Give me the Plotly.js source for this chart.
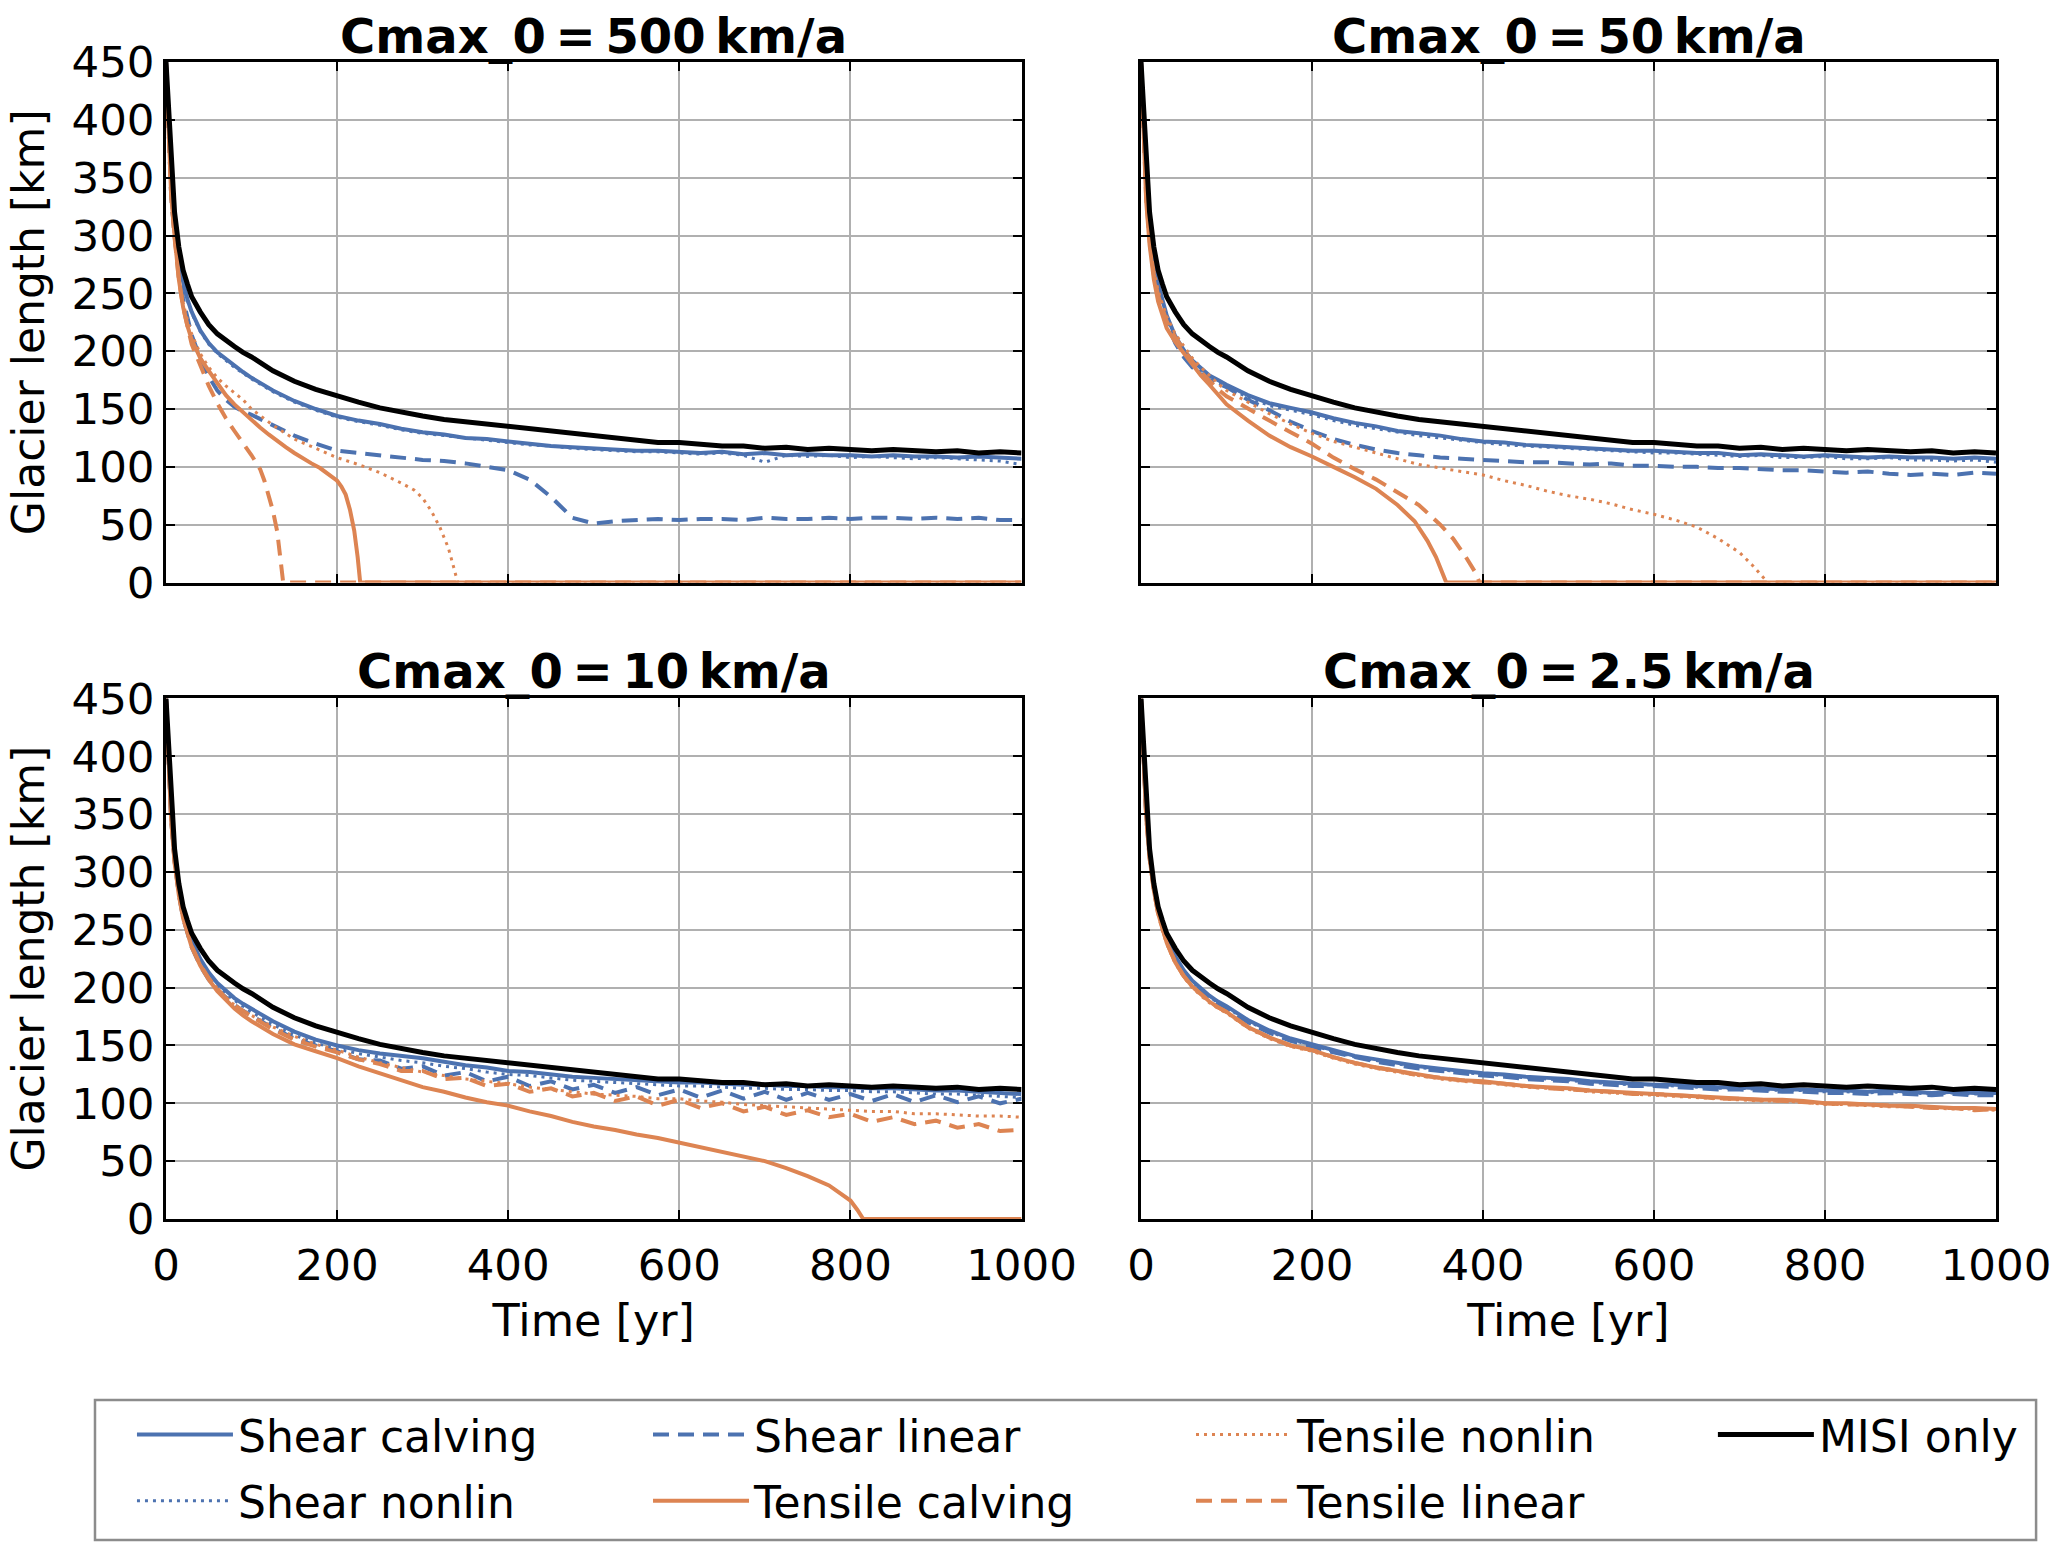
<!DOCTYPE html>
<html>
<head>
<meta charset="utf-8">
<script src="https://cdn.plot.ly/plotly-3.0.1.min.js"></script>
<style>html,body{margin:0;padding:0;background:#fff}</style>
</head>
<body>
<div id="chart" style="width:2067px;height:1561px"></div>
<script>
// time axis shared by most runs [yr]
const T = [0,3,6,10,15,20,25,30,40,50,60,70,80,90,
  100,125,150,175,200,225,250,275,300,325,350,375,400,425,450,475,500,525,550,575,600,
  625,650,675,700,725,750,775,800,825,850,875,900,925,950,975,1000];

// MISI only (same in every panel)
const misi = [450,405,360,320,290,270,258,247,234,223,215,209,204,199,
  195,183,174,167,161,156,151,147,144,141,139,137,134,132,130,128,126,125,123,121,121,
  119,118,118,116,117,115,116,115,114,115,114,113,114,112,113,112];

// ---- Cmax_0 = 500 km/a
const p1_sc = [450,392,348,310,282,260,245,234,218,207,199,193,188,182,
  177,166,157,150,144,140,137,133,130,128,125,124,122,120,118,117,116,115,114,114,113,
  112,113,111,112,110,111,110,110,109,110,109,109,108,109,108,107];
const p1_sn = [450,390,346,308,280,259,244,233,217,206,198,192,186,181,
  176,165,156,149,143,139,136,132,129,127,125,123,121,119,118,116,115,114,113,113,112,
  111,112,110,104,110,109,110,108,109,108,107,108,107,106,105,102];
const p1_sl = [450,385,335,300,268,245,228,214,194,178,166,158,152,148,
  145,136,127,120,114,112,110,108,106,105,103,100,97,89,74,56,51,53,54,55,54,
  55,55,54,56,55,55,56,55,56,56,55,56,55,56,54,54];
const p1_tc_t = [0,3,6,10,15,20,25,30,40,50,60,70,80,90,100,110,120,130,140,150,160,170,180,190,200,205,210,215,220,224,227,1000];
const p1_tc = [450,385,335,300,262,238,222,210,194,183,172,162,154,147,141,134,128,122,117,112,107,103,99,94,88,83,76,63,45,22,0,0];
const p1_tn_t = [0,3,6,10,15,20,25,30,40,50,60,70,80,90,100,125,150,175,200,225,250,275,290,300,310,320,330,336,341,1000];
const p1_tn = [450,385,335,298,264,242,227,215,198,186,177,170,164,158,150,136,124,116,108,102,95,86,80,73,62,48,30,14,0,0];
const p1_tl_t = [0,3,6,10,15,20,25,30,40,50,60,70,80,90,100,105,110,115,120,125,130,134,137,1000];
const p1_tl = [450,385,335,298,262,238,220,206,188,170,155,142,131,121,110,104,98,88,76,62,44,22,0,0];

// ---- Cmax_0 = 50 km/a
const p2_sc = [450,390,345,308,278,258,243,231,213,201,192,185,179,175,
  171,162,155,151,147,142,138,135,131,129,127,124,122,121,119,118,117,116,115,114,114,
  113,112,112,110,111,110,109,110,109,108,109,108,108,107,108,107];
const p2_sn = [450,388,343,306,276,256,241,229,211,199,190,183,177,173,
  169,160,153,149,145,140,136,133,130,127,125,123,121,119,118,117,116,115,114,113,112,
  112,111,110,109,110,108,108,109,107,107,108,106,106,105,106,104];
const p2_sl = [450,385,340,302,272,252,237,225,207,195,186,180,175,172,
  169,158,149,139,131,124,119,115,112,110,108,107,106,105,104,104,103,102,103,101,101,
  100,100,99,99,98,97,97,96,95,96,94,93,94,93,95,94];
const p2_tc_t = [0,3,6,10,15,20,25,30,40,50,60,70,80,90,100,125,150,175,200,225,250,275,300,320,335,345,352,357,1000];
const p2_tc = [450,380,330,292,262,243,230,220,208,198,188,179,171,163,154,140,127,117,109,100,91,81,67,53,36,22,10,0,0];
const p2_tn_t = [0,3,6,10,15,20,25,30,40,50,60,70,80,90,
  100,125,150,175,200,225,250,275,300,325,350,375,400,425,450,475,500,525,550,575,600,625,650,675,700,
  715,725,733,1000];
const p2_tn = [450,385,338,300,270,252,240,230,215,204,194,186,179,172,
  166,156,146,137,129,122,117,112,107,102,99,96,93,88,84,79,75,72,68,63,59,54,48,38,26,
  15,7,0,0];
const p2_tl_t = [0,3,6,10,15,20,25,30,40,50,60,70,80,90,100,125,150,175,200,225,250,275,300,325,350,365,380,390,396,1000];
const p2_tl = [450,382,333,296,266,248,236,226,212,201,191,182,174,167,161,150,140,130,120,108,98,89,78,67,50,38,22,10,0,0];

// ---- Cmax_0 = 10 km/a
const p3_sc = [450,392,350,314,286,266,252,241,225,213,204,197,191,186,
  182,171,162,155,150,146,143,141,139,136,133,131,128,127,125,123,122,121,120,119,118,
  118,117,116,116,115,115,114,114,113,113,112,111,111,110,109,108];
const p3_sn = [450,390,348,312,284,264,250,239,223,211,202,195,189,184,
  179,168,159,152,147,143,140,137,135,132,130,127,125,124,122,120,119,118,117,116,115,
  115,114,113,113,112,112,111,111,110,110,109,108,108,107,106,105];
const p3_sl = [450,390,346,310,281,260,246,235,219,207,198,191,185,180,
  176,165,156,150,145,138,137,130,132,124,127,119,123,115,119,112,116,109,114,107,112,
  105,111,104,110,103,109,103,108,102,108,101,107,101,106,100,104];
const p3_tc_t = [0,3,6,10,15,20,25,30,40,50,60,70,80,90,
  100,125,150,175,200,225,250,275,300,325,350,375,400,425,450,475,500,525,550,575,600,
  625,650,675,700,725,750,775,800,808,815,1000];
const p3_tc = [450,390,345,308,280,260,246,235,219,207,197,189,182,176,
  171,160,151,145,139,132,126,120,114,110,105,101,98,93,89,84,80,77,73,70,66,
  62,58,54,50,44,37,29,16,8,0,0];
const p3_tn = [450,390,346,309,281,261,247,236,220,208,199,191,185,180,
  176,166,158,151,146,140,135,131,127,124,121,119,117,114,112,110,108,107,106,104,104,
  102,101,99,98,97,96,95,94,93,93,91,91,90,89,89,88];
const p3_tl = [450,390,346,309,281,261,247,236,220,208,199,191,185,180,
  175,164,155,149,144,138,134,128,128,121,122,115,117,110,113,106,109,102,106,98,103,
  96,100,93,97,90,94,88,91,84,88,82,85,79,82,76,77];

// ---- Cmax_0 = 2.5 km/a
const p4_sc = [450,393,352,316,288,268,254,243,227,215,206,199,193,188,
  184,172,163,156,151,146,141,138,135,132,130,128,126,125,123,122,121,119,118,117,116,
  116,115,114,114,113,112,112,111,111,110,111,110,109,110,109,109];
const p4_sn = [450,392,351,315,287,267,253,242,226,214,205,198,192,187,
  183,171,162,155,150,145,140,137,134,131,129,127,125,124,122,121,120,118,117,116,116,
  115,114,113,113,112,111,111,110,110,109,110,109,108,109,108,108];
const p4_sl = [450,391,350,314,286,266,252,241,225,213,204,197,191,186,
  182,170,161,154,149,144,140,136,133,130,128,126,124,123,121,120,119,117,116,115,115,
  114,113,112,112,111,110,110,109,109,108,109,108,107,108,107,107];
const p4_tc = [450,390,348,312,284,264,250,239,222,210,201,194,188,183,
  179,166,157,150,146,140,135,131,128,125,122,120,119,117,115,114,113,111,110,109,108,
  107,106,105,104,103,103,102,100,100,99,98,98,97,96,96,95];
const p4_tn = [450,390,347,311,283,263,249,238,221,209,200,193,187,182,
  178,165,156,149,145,139,134,130,127,124,121,119,118,116,114,113,112,110,109,108,107,
  106,105,104,103,102,102,101,99,99,98,97,97,96,95,95,94];
const p4_tl = [450,391,348,312,284,264,250,239,222,210,201,194,188,183,
  179,166,157,150,146,140,135,131,128,124,122,120,118,117,115,113,112,111,110,108,108,
  107,106,104,104,103,102,101,100,99,99,98,97,96,96,94,95];

const titles = ['Cmax_0\u2009=\u2009500\u2009km/a', 'Cmax_0\u2009=\u200950\u2009km/a',
                'Cmax_0\u2009=\u200910\u2009km/a', 'Cmax_0\u2009=\u20092.5\u2009km/a'];

const FONT = 'DejaVu Sans';
const BLUE = '#4c72b0';
const ORANGE = '#dd8452';

const styles = {
  'Shear calving':   {color: BLUE,   width: 4,   dash: 'solid',    legend: 'legend',  rank: 1},
  'Shear nonlin':    {color: BLUE,   width: 3,   dash: '3px,5px',  legend: 'legend',  rank: 2},
  'Shear linear':    {color: BLUE,   width: 4,   dash: '16px,9px', legend: 'legend2', rank: 3},
  'Tensile calving': {color: ORANGE, width: 4,   dash: 'solid',    legend: 'legend2', rank: 4},
  'Tensile nonlin':  {color: ORANGE, width: 3,   dash: '3px,5px',  legend: 'legend3', rank: 5},
  'Tensile linear':  {color: ORANGE, width: 4,   dash: '16px,9px', legend: 'legend3', rank: 6},
  'MISI only':       {color: '#000', width: 5,   dash: 'solid',    legend: 'legend4', rank: 7}
};

const panels = [
  {xa: 'x',  ya: 'y',  runs: [
    ['Shear calving', T, p1_sc], ['Shear nonlin', T, p1_sn], ['Shear linear', T, p1_sl],
    ['Tensile calving', p1_tc_t, p1_tc], ['Tensile nonlin', p1_tn_t, p1_tn], ['Tensile linear', p1_tl_t, p1_tl],
    ['MISI only', T, misi]]},
  {xa: 'x2', ya: 'y2', runs: [
    ['Shear calving', T, p2_sc], ['Shear nonlin', T, p2_sn], ['Shear linear', T, p2_sl],
    ['Tensile calving', p2_tc_t, p2_tc], ['Tensile nonlin', p2_tn_t, p2_tn], ['Tensile linear', p2_tl_t, p2_tl],
    ['MISI only', T, misi]]},
  {xa: 'x3', ya: 'y3', runs: [
    ['Shear calving', T, p3_sc], ['Shear nonlin', T, p3_sn], ['Shear linear', T, p3_sl],
    ['Tensile calving', p3_tc_t, p3_tc], ['Tensile nonlin', T, p3_tn], ['Tensile linear', T, p3_tl],
    ['MISI only', T, misi]]},
  {xa: 'x4', ya: 'y4', runs: [
    ['Shear calving', T, p4_sc], ['Shear nonlin', T, p4_sn], ['Shear linear', T, p4_sl],
    ['Tensile calving', T, p4_tc], ['Tensile nonlin', T, p4_tn], ['Tensile linear', T, p4_tl],
    ['MISI only', T, misi]]}
];

const data = [];
panels.forEach(function (p, i) {
  p.runs.forEach(function (r) {
    const s = styles[r[0]];
    data.push({
      type: 'scatter', mode: 'lines', name: r[0], x: r[1], y: r[2],
      xaxis: p.xa, yaxis: p.ya,
      line: {color: s.color, width: s.width, dash: s.dash},
      legend: s.legend, legendgroup: r[0], legendrank: s.rank,
      showlegend: i === 0, hoverinfo: 'skip'
    });
  });
});

function axis(extra) {
  return Object.assign({
    showline: true, linecolor: '#000', linewidth: 2.5, mirror: 'allticks',
    ticks: 'inside', ticklen: 9, tickwidth: 2, tickcolor: '#000',
    showgrid: true, gridcolor: '#b0b0b0', gridwidth: 1.5, zeroline: false,
    tickfont: {family: FONT, size: 43.5, color: '#000'}, fixedrange: true
  }, extra);
}
const xBase = {range: [0, 1000], tick0: 0, dtick: 200, ticklabelstandoff: 6};
const yBase = {range: [0, 450], tick0: 0, dtick: 50};
const xTitle = {text: 'Time [yr]', font: {family: FONT, size: 44.5, color: '#000'}, standoff: 16};
const yTitle = {text: 'Glacier length [km]', font: {family: FONT, size: 44, color: '#000'}, standoff: 14};

const XL = [0, 0.4675], XR = [0.5328, 1];
const YT = [0.5501, 1], YB = [0, 0.4499];

const legendBase = {
  orientation: 'v', xanchor: 'left', yanchor: 'top', y: -0.156,
  bgcolor: 'rgba(0,0,0,0)', borderwidth: 0, itemwidth: 96,
  traceorder: 'grouped', tracegroupgap: 6,
  font: {family: FONT, size: 44, color: '#000'}
};

const layout = {
  width: 2067, height: 1561,
  margin: {l: 166, r: 71, t: 62, b: 342},
  paper_bgcolor: '#fff', plot_bgcolor: '#fff',
  font: {family: FONT, color: '#000'},
  xaxis:  axis(Object.assign({domain: XL, anchor: 'y',  showticklabels: false}, xBase)),
  yaxis:  axis(Object.assign({domain: YT, anchor: 'x',  title: yTitle}, yBase)),
  xaxis2: axis(Object.assign({domain: XR, anchor: 'y2', showticklabels: false}, xBase)),
  yaxis2: axis(Object.assign({domain: YT, anchor: 'x2', showticklabels: false}, yBase)),
  xaxis3: axis(Object.assign({domain: XL, anchor: 'y3', title: xTitle}, xBase)),
  yaxis3: axis(Object.assign({domain: YB, anchor: 'x3', title: yTitle}, yBase)),
  xaxis4: axis(Object.assign({domain: XR, anchor: 'y4', title: xTitle}, xBase)),
  yaxis4: axis(Object.assign({domain: YB, anchor: 'x4', showticklabels: false}, yBase)),
  legend:  Object.assign({x: -0.0186}, legendBase),
  legend2: Object.assign({x: 0.2634}, legendBase),
  legend3: Object.assign({x: 0.5601}, legendBase),
  legend4: Object.assign({x: 0.8453}, legendBase),
  annotations: titles.map(function (t, i) {
    const xd = (i % 2 === 0) ? XL : XR;
    return {
      text: '<b>' + t + '</b>', xref: 'paper', yref: 'paper',
      x: (xd[0] + xd[1]) / 2, y: i < 2 ? 1.0225 : 0.4736,
      xanchor: 'center', yanchor: 'middle', showarrow: false,
      font: {family: FONT, size: 48, color: '#000'}
    };
  }),
  shapes: [{
    type: 'rect', xref: 'paper', yref: 'paper',
    x0: -0.0388, x1: 1.0219, y0: -0.2774, y1: -0.1564,
    line: {color: '#8c8c8c', width: 2.5}, fillcolor: 'rgba(0,0,0,0)', layer: 'below'
  }]
};

Plotly.newPlot('chart', data, layout, {displayModeBar: false, responsive: false});
</script>
</body>
</html>
